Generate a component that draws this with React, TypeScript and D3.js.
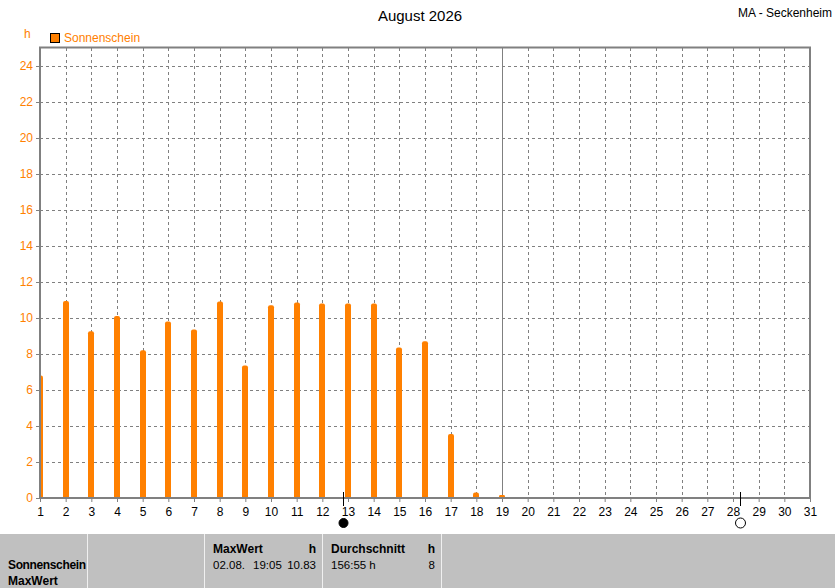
import * as d3 from 'd3';
import {useEffect, useRef} from 'react';

// Sonnenscheindauer je Tag (h), August 2026, Tage 1..19
const days = d3.range(1, 20);
const sunshine = [6.7, 10.83, 9.15, 10.0, 8.1, 9.7, 9.25, 10.8, 7.25, 10.6, 10.75, 10.7, 10.7, 10.7, 8.25, 8.6, 3.45, 0.2, 0.05];

const yTicks = d3.range(0, 25, 2);
const xTicks = d3.range(1, 32);

const title = 'August 2026';
const station = 'MA - Seckenheim';
const seriesName = 'Sonnenschein';
const unit = 'h';
const currentDay = 19;
const newMoonDay = 12.8;
const fullMoonDay = 28.27;

const ORANGE = '#ff8000';
const GRID = '#808080';
const FONT = '"Liberation Sans", Arial, sans-serif';

const App = ({width = 835, height = 588}) => {
    const ref = useRef(null);

    const plot = {left: 40, right: 810, top: 48, bottom: 498};

    useEffect(() => {
        const svg = d3.select(ref.current);
        svg.selectAll('*').remove();
        svg.attr('width', width).attr('height', height).style('background', '#fff');

        const x = d3.scaleLinear().domain([1, 31]).range([plot.left, plot.right]);
        const y = d3.scaleLinear().domain([0, 25]).range([plot.bottom, plot.top]);

        // grid
        const grid = svg.append('g').attr('stroke', GRID).attr('stroke-width', 1).attr('stroke-dasharray', '3,3');
        grid.selectAll('.gy')
            .data(yTicks.filter((t) => t > 0))
            .join('line')
            .attr('x1', plot.left)
            .attr('x2', plot.right)
            .attr('y1', (d) => Math.round(y(d)) + 0.5)
            .attr('y2', (d) => Math.round(y(d)) + 0.5);
        grid.selectAll('.gx')
            .data(xTicks.filter((t) => t > 1 && t < 31 && t !== currentDay))
            .join('line')
            .attr('x1', (d) => Math.round(x(d)) + 0.5)
            .attr('x2', (d) => Math.round(x(d)) + 0.5)
            .attr('y1', plot.top)
            .attr('y2', plot.bottom);

        // current day line
        svg.append('line')
            .attr('x1', Math.round(x(currentDay)) + 0.5)
            .attr('x2', Math.round(x(currentDay)) + 0.5)
            .attr('y1', plot.top)
            .attr('y2', plot.bottom)
            .attr('stroke', GRID);

        // bars
        svg.append('clipPath')
            .attr('id', 'plotclip')
            .append('rect')
            .attr('x', plot.left)
            .attr('y', plot.top)
            .attr('width', plot.right - plot.left)
            .attr('height', plot.bottom - plot.top);

        const bw = 6;
        const r = 2;
        const barPath = (d: number, v: number) => {
            const cx = Math.round(x(d));
            const x0 = cx - bw / 2;
            const x1 = cx + bw / 2;
            const top = y(v) - 2;
            const b = plot.bottom;
            const rr = Math.min(r, (b - top) / 2);
            return `M${x0},${b} V${top + rr} Q${x0},${top} ${x0 + rr},${top} H${x1 - rr} Q${x1},${top} ${x1},${top + rr} V${b} Z`;
        };
        svg.append('g')
            .attr('clip-path', 'url(#plotclip)')
            .selectAll('path')
            .data(days)
            .join('path')
            .attr('d', (d, i) => barPath(d, sunshine[i]))
            .attr('fill', ORANGE);

        // frame
        svg.append('rect')
            .attr('x', plot.left)
            .attr('y', plot.top - 0.5)
            .attr('width', plot.right - plot.left)
            .attr('height', plot.bottom - plot.top + 0.5)
            .attr('fill', 'none')
            .attr('stroke', GRID)
            .attr('stroke-width', 2);

        // y axis
        const yAxis = d3.axisLeft(y).tickValues(yTicks).tickSize(4).tickPadding(3).tickFormat((d) => `${d}`);
        const ya = svg.append('g').attr('transform', `translate(${plot.left},0)`).call(yAxis);
        ya.select('.domain').remove();
        ya.selectAll('line').attr('stroke', GRID);
        ya.selectAll('text').attr('fill', ORANGE).style('font', `12px ${FONT}`);

        // x axis
        const xAxis = d3.axisBottom(x).tickValues(xTicks).tickSize(4).tickPadding(5).tickFormat((d) => `${d}`);
        const xa = svg.append('g').attr('transform', `translate(0,${plot.bottom})`).call(xAxis);
        xa.select('.domain').remove();
        xa.selectAll('line').attr('stroke', GRID);
        xa.selectAll('text').attr('fill', '#000').style('font', `12px ${FONT}`);

        // moon phases
        const moon = svg.append('g');
        [newMoonDay, fullMoonDay].forEach((d, i) => {
            const mx = Math.round(x(d)) + 0.5;
            moon.append('line').attr('x1', mx).attr('x2', mx).attr('y1', 492).attr('y2', 506).attr('stroke', '#000');
            moon.append('circle')
                .attr('cx', mx)
                .attr('cy', 523)
                .attr('r', i === 0 ? 4.5 : 5)
                .attr('fill', i === 0 ? '#000' : '#fff')
                .attr('stroke', '#000');
        });

        // titles
        svg.append('text')
            .attr('x', 420)
            .attr('y', 21)
            .attr('text-anchor', 'middle')
            .style('font', `15px ${FONT}`)
            .text(title);
        svg.append('text')
            .attr('x', 832)
            .attr('y', 17)
            .attr('text-anchor', 'end')
            .style('font', `12px ${FONT}`)
            .text(station);
        svg.append('text')
            .attr('x', 24)
            .attr('y', 38)
            .attr('fill', ORANGE)
            .style('font', `12px ${FONT}`)
            .text(unit);

        // legend
        svg.append('rect').attr('x', 50.5).attr('y', 33.5).attr('width', 9).attr('height', 9).attr('fill', ORANGE).attr('stroke', '#000');
        svg.append('text')
            .attr('x', 64)
            .attr('y', 42)
            .attr('fill', ORANGE)
            .style('font', `12px ${FONT}`)
            .text(seriesName);

        // table panel
        const panelTop = 534;
        svg.append('rect').attr('x', 0).attr('y', panelTop).attr('width', width).attr('height', height - panelTop).attr('fill', '#c0c0c0');
        [87, 204, 322, 441].forEach((sx) => {
            svg.append('line')
                .attr('x1', sx + 0.5)
                .attr('x2', sx + 0.5)
                .attr('y1', panelTop)
                .attr('y2', height)
                .attr('stroke', '#f0f0f0');
        });
        const cell = (tx: number, ty: number, t: string, bold = false, anchor = 'start') =>
            svg.append('text')
                .attr('x', tx)
                .attr('y', ty)
                .attr('text-anchor', anchor)
                .style('font', `${bold ? 'bold 12px' : '11.5px'} ${FONT}`)
                .text(t);
        cell(8, 569, 'Sonnenschein', true).attr('textLength', 78);
        cell(8, 585, 'MaxWert', true);
        cell(213, 553, 'MaxWert', true);
        cell(316, 553, 'h', true, 'end');
        cell(213, 569, '02.08.');
        cell(253, 569, '19:05');
        cell(316, 569, '10.83', false, 'end');
        cell(331, 553, 'Durchschnitt', true);
        cell(435, 553, 'h', true, 'end');
        cell(331, 569, '156:55 h');
        cell(435, 569, '8', false, 'end');
    }, []);

    return <svg ref={ref} style={{position: 'absolute', left: 0, top: 0, display: 'block'}}></svg>;
};

export default App;
